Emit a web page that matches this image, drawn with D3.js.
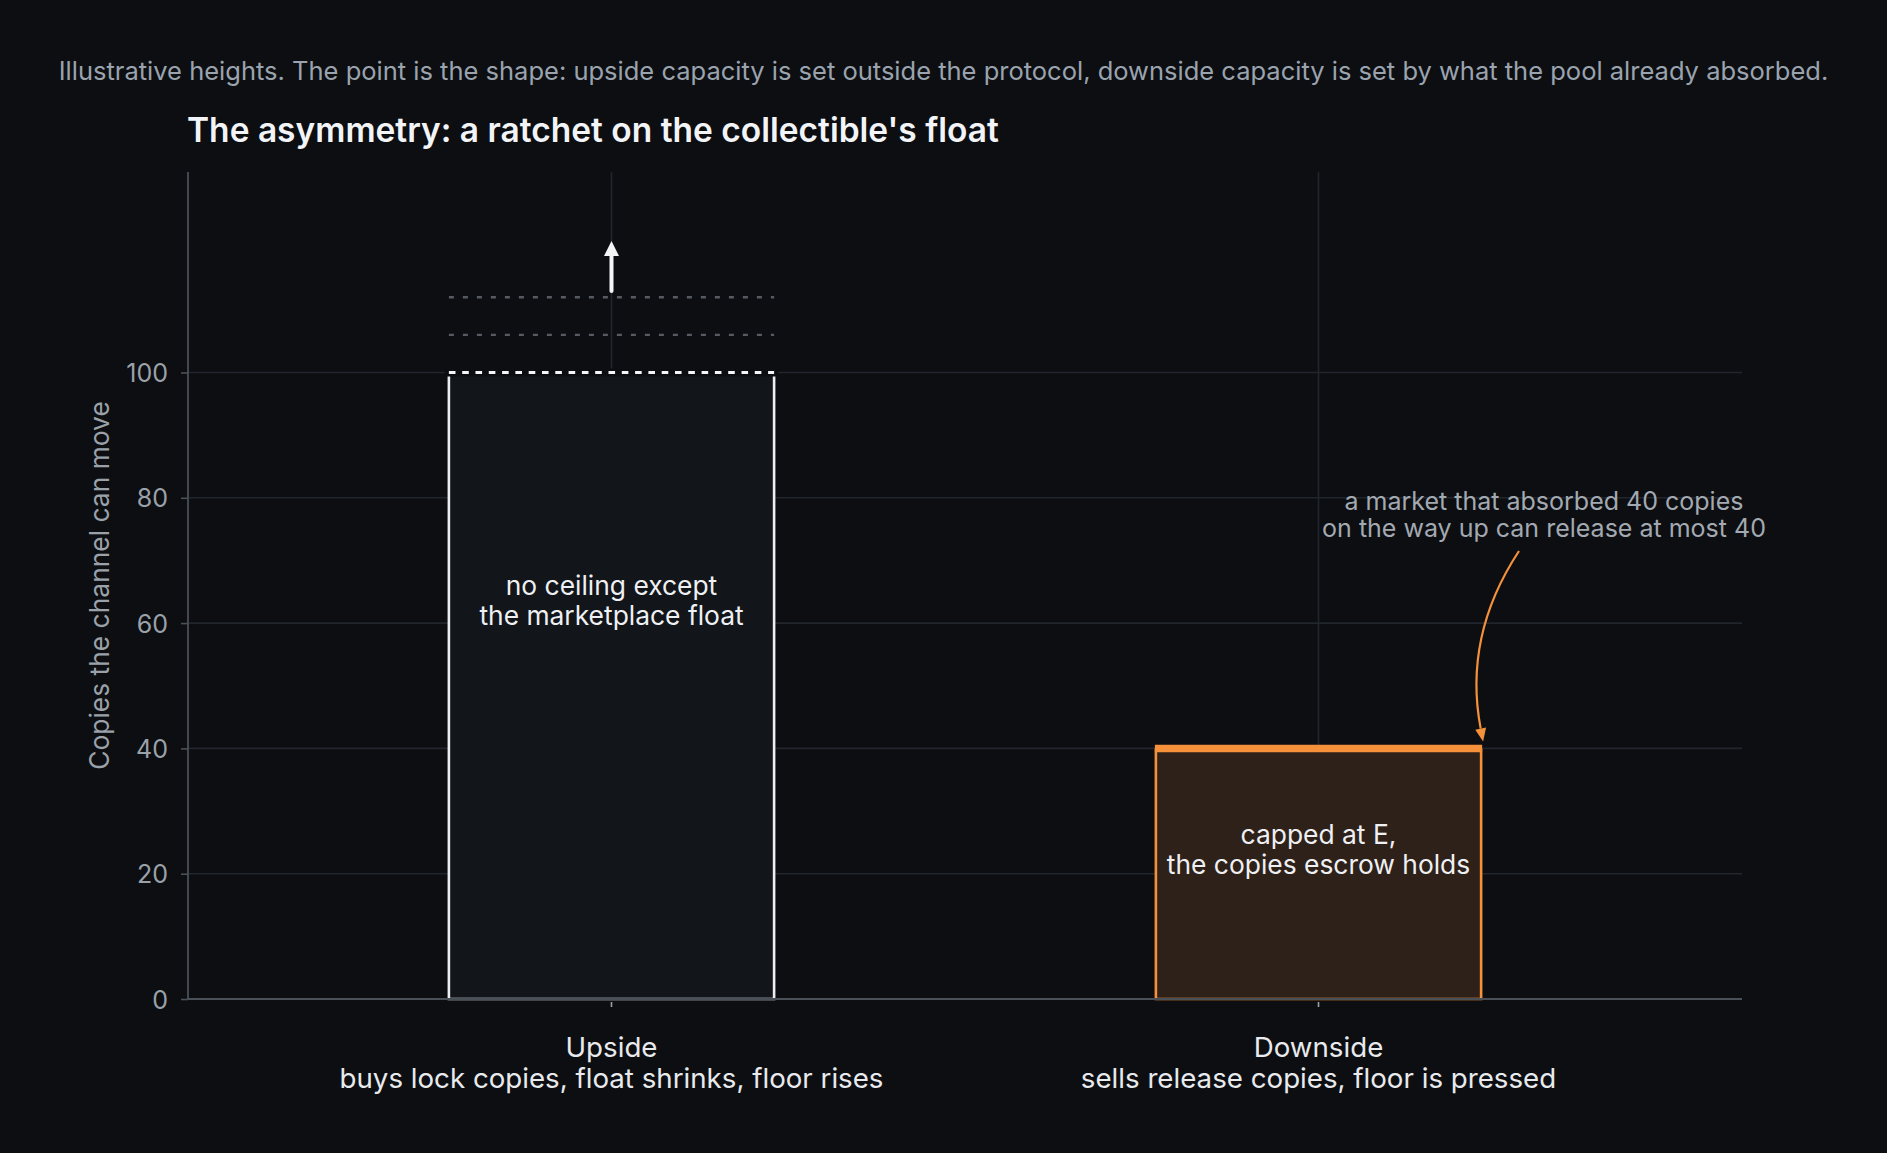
<!DOCTYPE html>
<html>
<head>
<meta charset="utf-8">
<script src="https://cdn.jsdelivr.net/npm/d3@7"></script>
<style>
  html, body { margin: 0; padding: 0; background: #0c0e12; }
  svg { display: block; }
  text { font-family: Inter, "Noto Sans", sans-serif; }
</style>
</head>
<body>
<script>
// ---- data ----
const categories = ["Upside", "Downside"];
const categoryNotes = ["buys lock copies, float shrinks, floor rises", "sells release copies, floor is pressed"];
const capacities = [100, 40];
const barNotes = [["no ceiling except", "the marketplace float"], ["capped at E,", "the copies escrow holds"]];
const ghostLevels = [106, 112];          // dotted "further float" lines above the upside bar
const upArrow = [113, 121];              // arrow from / to (copies)
const yTicks = [0, 20, 40, 60, 80, 100];
const yMax = 132;
const annotationLines = ["a market that absorbed 40 copies", "on the way up can release at most 40"];
const subtitle = "Illustrative heights. The point is the shape: upside capacity is set outside the protocol, downside capacity is set by what the pool already absorbed.";
const title = "The asymmetry: a ratchet on the collectible's float";
const yLabel = "Copies the channel can move";

// ---- layout ----
const W = 1887, H = 1153;
const M = { left: 188, right: 145, top: 172, bottom: 154 };
const BG = "#0c0e12";
const GRID = "#21262c";
const SPINE = "#4a5058";
const ORANGE = "#f5913a";

const svg = d3.select("body").append("svg").attr("width", W).attr("height", H);
svg.append("rect").attr("width", W).attr("height", H).attr("fill", BG);

const x = d3.scaleBand().domain(categories).range([M.left, W - M.right]).paddingInner(0.54).paddingOuter(0.369);
const y = d3.scaleLinear().domain([0, yMax]).range([H - M.bottom, M.top]);

// subtitle + title
svg.append("text").attr("x", W / 2).attr("y", 80).attr("text-anchor", "middle")
  .attr("fill", "#9aa3ae").attr("font-size", 25.5).text(subtitle);
svg.append("text").attr("x", M.left - 1).attr("y", 141.5)
  .attr("fill", "#f2f4f7").attr("font-size", 33.5).attr("font-weight", 600).text(title);

// grid
const g = svg.append("g");
g.selectAll("line.hgrid").data(yTicks).join("line").attr("class", "hgrid")
  .attr("x1", M.left).attr("x2", W - M.right)
  .attr("y1", d => y(d)).attr("y2", d => y(d))
  .attr("stroke", GRID).attr("stroke-width", 1.6);
g.selectAll("line.vgrid").data(categories).join("line").attr("class", "vgrid")
  .attr("x1", d => x(d) + x.bandwidth() / 2).attr("x2", d => x(d) + x.bandwidth() / 2)
  .attr("y1", M.top).attr("y2", H - M.bottom)
  .attr("stroke", GRID).attr("stroke-width", 1.6);

// bars
const fills = ["#12151a", "#2e2119"];
const strokes = ["#eceef1", ORANGE];
categories.forEach((c, i) => {
  const x0 = x(c), x1 = x(c) + x.bandwidth();
  const yt = y(capacities[i]), yb = y(0);
  g.append("rect").attr("x", x0).attr("y", yt).attr("width", x.bandwidth()).attr("height", yb - yt)
    .attr("fill", fills[i]);
  g.append("path").attr("d", `M${x0},${yt}V${yb}H${x1}V${yt}`)
    .attr("fill", "none").attr("stroke", strokes[i]).attr("stroke-width", 2.6);
});

// upside: open (dashed) top, ghost lines and arrow
{
  const c = categories[0];
  const x0 = x(c), x1 = x(c) + x.bandwidth(), cx = x(c) + x.bandwidth() / 2;
  const yt = y(capacities[0]);
  g.append("line").attr("x1", x0 - 4).attr("x2", x1 + 4).attr("y1", yt).attr("y2", yt)
    .attr("stroke", BG).attr("stroke-width", 8);
  g.append("line").attr("x1", x0).attr("x2", x1).attr("y1", yt).attr("y2", yt)
    .attr("stroke", "#f4f5f7").attr("stroke-width", 3.2).attr("stroke-dasharray", "6.6,6.7");
  g.selectAll("line.ghost").data(ghostLevels).join("line").attr("class", "ghost")
    .attr("x1", x0).attr("x2", x1).attr("y1", d => y(d)).attr("y2", d => y(d))
    .attr("stroke", "#565b63").attr("stroke-width", 2.4).attr("stroke-dasharray", "5,9");
  const ya = y(upArrow[0]), yb = y(upArrow[1]);
  g.append("line").attr("x1", cx).attr("x2", cx).attr("y1", ya).attr("y2", yb + 12)
    .attr("stroke", "#f4f5f7").attr("stroke-width", 4).attr("stroke-linecap", "round");
  g.append("path").attr("d", `M${cx},${yb}L${cx - 7.5},${yb + 15}L${cx + 7.5},${yb + 15}Z`)
    .attr("fill", "#f4f5f7");
}

// downside: thick orange cap
{
  const c = categories[1];
  const x0 = x(c), x1 = x(c) + x.bandwidth();
  const yt = y(capacities[1]);
  g.append("line").attr("x1", x0 - 1).attr("x2", x1 + 1).attr("y1", yt).attr("y2", yt)
    .attr("stroke", ORANGE).attr("stroke-width", 7.5);
}

// bar notes
const noteCenters = [64, 23.5];
const noteShift = [-3.5, -7.5];
categories.forEach((c, i) => {
  const cx = x(c) + x.bandwidth() / 2;
  const t = g.append("text").attr("text-anchor", "middle").attr("fill", "#eef0f3").attr("font-size", 26.4);
  barNotes[i].forEach((line, k) => {
    t.append("tspan").attr("x", cx).attr("y", y(noteCenters[i]) + noteShift[i] + k * 30).text(line);
  });
});

// axes
const yAxis = svg.append("g").attr("transform", `translate(${M.left},0)`)
  .call(d3.axisLeft(y).tickValues(yTicks).tickSize(7).tickPadding(13));
yAxis.select(".domain").attr("stroke", SPINE).attr("stroke-width", 1.8)
  .attr("d", `M0,${y(yMax)}V${y(0)}`);
yAxis.selectAll(".tick line").attr("stroke", SPINE).attr("stroke-width", 1.6);
yAxis.selectAll(".tick text").attr("fill", "#9ba1a9").attr("font-size", 25).attr("font-family", "Inter")
  .attr("dy", "0.36em");

const xAxis = svg.append("g").attr("transform", `translate(0,${y(0)})`)
  .call(d3.axisBottom(x).tickSize(0).tickFormat(""));
xAxis.select(".domain").attr("stroke", SPINE).attr("stroke-width", 2)
  .attr("d", `M${M.left},0H${W - M.right}`);
xAxis.selectAll(".tick").append("line").attr("y1", 3).attr("y2", 8).attr("stroke", "#9ba1a9").attr("stroke-width", 1.6);
xAxis.selectAll(".tick").each(function (d, i) {
  const t = d3.select(this).append("text").attr("text-anchor", "middle").attr("fill", "#e8eaed")
    .attr("font-size", 27.7).attr("font-family", "Inter");
  t.append("tspan").attr("x", 0).attr("y", 58).text(categories[i]);
  t.append("tspan").attr("x", 0).attr("y", 89).text(categoryNotes[i]);
});

// y label
svg.append("text").attr("transform", `translate(109,${(y(0) + y(yMax)) / 2}) rotate(-90)`)
  .attr("text-anchor", "middle").attr("fill", "#9ba1a9").attr("font-size", 26.4).text(yLabel);

// annotation
{
  const ann = svg.append("text").attr("text-anchor", "middle").attr("fill", "#a3a9b1").attr("font-size", 25);
  annotationLines.forEach((l, k) => ann.append("tspan").attr("x", 1544).attr("y", 510 + k * 27).text(l));
  const c = categories[1];
  const tipX = x(c) + x.bandwidth() + 2, tipY = y(capacities[1]) - 7;
  const p0 = [1519, 551];
  const ctrl = [1463, 636];
  const dir = [tipX - ctrl[0], tipY - ctrl[1]];
  const len = Math.hypot(dir[0], dir[1]);
  const u = [dir[0] / len, dir[1] / len];
  const hl = 13, hw = 5.5;
  const base = [tipX - u[0] * hl, tipY - u[1] * hl];
  svg.append("path").attr("d", `M${p0[0]},${p0[1]}Q${ctrl[0]},${ctrl[1]} ${base[0]},${base[1]}`)
    .attr("fill", "none").attr("stroke", ORANGE).attr("stroke-width", 2.2);
  svg.append("path").attr("d",
    `M${tipX},${tipY}L${base[0] - u[1] * hw},${base[1] + u[0] * hw}L${base[0] + u[1] * hw},${base[1] - u[0] * hw}Z`)
    .attr("fill", ORANGE);
}
</script>
</body>
</html>
